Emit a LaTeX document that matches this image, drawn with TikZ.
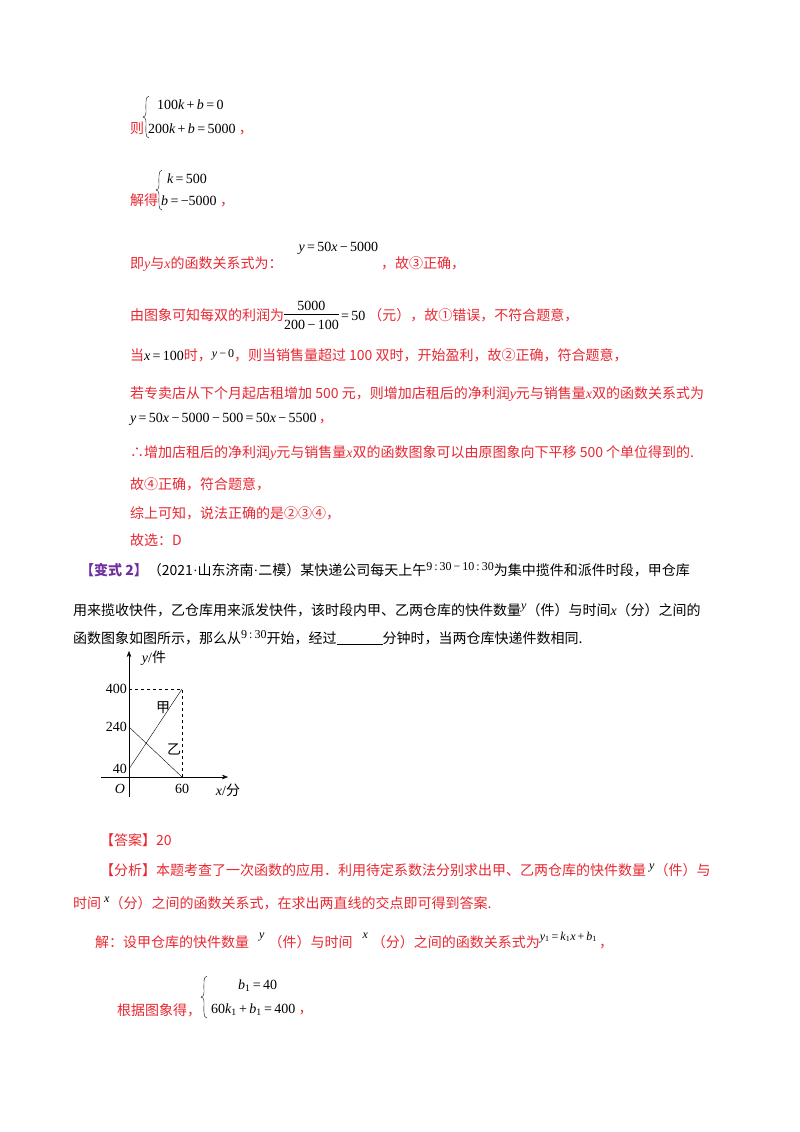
\documentclass[tikz,border=0pt]{standalone}
\usetikzlibrary{arrows.meta}
\usepackage{fontspec}
\setmainfont{Liberation Serif}
\newfontfamily\cjk{Noto Sans CJK SC}
\definecolor{rd}{RGB}{232,40,50}
\definecolor{pu}{RGB}{112,48,160}
\newcommand{\m}[1]{{\rmfamily\itshape #1}}
\newcommand{\bk}[1]{{\color{black}\rmfamily #1}}
\newcommand{\up}[2]{\raisebox{#1}{\color{black}\rmfamily\fontsize{12}{13}\selectfont #2}}
\begin{document}
\begin{tikzpicture}[x=1pt,y=-1pt,
 t/.style={anchor=base west,inner sep=0pt,font=\fontsize{14}{16}\selectfont\cjk,text=rd},
 k/.style={anchor=base west,inner sep=0pt,font=\fontsize{14}{16}\selectfont\rmfamily,text=black},
 g/.style={inner sep=0pt,font=\fontsize{14}{16}\selectfont\rmfamily}]
\fill[white] (0,0) rectangle (800,1132);
% system 1
\node[t] (a1) at (130,133) {则};
\node[k] (a2) at (157,109) {100\m{k}\,+\,\m{b}\,=\,0};
\node[k] (a3) at (148,133) {200\m{k}\,+\,\m{b}\,=\,5000};
\node[t] (a4) at ([xshift=3pt]a3.base east) {，};
\draw (149,96) .. controls (145,96) and (146,106) .. (146,112) .. controls (146,116) and (144,117) .. (143,117) .. controls (144,117) and (146,118) .. (146,122) .. controls (146,130) and (145,138) .. (149,138);
% system 2
\node[t] (b1) at (130,205) {解得};
\node[k] (b2) at (167,183) {\m{k}\,=\,500};
\node[k] (b3) at (161,205) {\m{b}\,=\,−5000};
\node[t] (b4) at ([xshift=3pt]b3.base east) {，};
\draw (162,170) .. controls (158,170) and (159,180) .. (159,185) .. controls (159,189) and (157,190) .. (156,190) .. controls (157,190) and (159,191) .. (159,195) .. controls (159,202) and (158,210) .. (162,210);
% lines
\node[t] (c1) at (130,268) {即\m{y}与\m{x}的函数关系式为：\hspace{16pt}\raisebox{17pt}{\bk{\m{y}\,=\,50\m{x}\,−\,5000}}\hspace{3pt}，故③正确，};
\node[t] (d1) at (130,320) {由图象可知每双的利润为\bk{\begin{tabular}{@{}c@{}}5000\\[-1pt]\hline\rule{0pt}{15pt}200\,−\,100\end{tabular}\,=\,50}\hspace{3pt}（元），故①错误，不符合题意，};
\node[t] (e1) at (130,360) {当\bk{\m{x}\,=\,100}时，\up{3pt}{\m{y}\,−\,0}，则当销售量超过 100 双时，开始盈利，故②正确，符合题意，};
\node[t] (f1) at (130,398) {若专卖店从下个月起店租增加 500 元，则增加店租后的净利润\m{y}元与销售量\m{x}双的函数关系式为};
\node[t] (f2) at (130,422) {\bk{\m{y}\,=\,50\m{x}\,−\,5000\,−\,500\,=\,50\m{x}\,−\,5500}\,，};
\node[t] (f4) at (130,457) {∴增加店租后的净利润\m{y}元与销售量\m{x}双的函数图象可以由原图象向下平移 500 个单位得到的.};
\node[t] (f5) at (130,489) {故④正确，符合题意，};
\node[t] (f6) at (130,518) {综上可知，说法正确的是②③④，};
\node[t] (f7) at (130,545) {故选：D};
% problem
\node[t,text=black] (p1) at (80,575) {\textcolor{pu}{\bfseries【变式 2】}（2021{\rmfamily·}山东济南{\rmfamily·}二模）某快递公司每天上午\up{5pt}{9\,:\,30\,−\,10\,:\,30}为集中揽件和派件时段，甲仓库};
\node[t,text=black] (p5) at (73,615) {用来揽收快件，乙仓库用来派发快件，该时段内甲、乙两仓库的快件数量\up{6pt}{\m{y}}（件）与时间\m{x}（分）之间的};
\node[t,text=black] (p8) at (73,643) {函数图象如图所示，那么从\up{5pt}{9\,:\,30}开始，经过\rule[-2pt]{46pt}{1.2pt}分钟时，当两仓库快递件数相同.};
% graph
\coordinate (O) at (129,777);
\coordinate (Xe) at (228,777);
\coordinate (Ye) at (129,651);
\coordinate (A) at (129,769);
\coordinate (B) at (182,689);
\coordinate (C) at (129,727);
\coordinate (D) at (182,777);
\coordinate (E) at (129,689);
\draw[-{Stealth[length=6pt]}] (101,777) -- (Xe);
\draw[-{Stealth[length=6pt]}] (129,797) -- (Ye);
\draw (A) -- (B);
\draw (C) -- (D);
\draw[dashed] (E) -- (B) -- (D);
\node[g,anchor=east] (l400) at (127,689) {400};
\node[g,anchor=east] (l240) at (127,727) {240};
\node[g,anchor=east] (l40) at (127,769) {40};
\node[g] (lO) at (120,789) {\itshape O};
\node[g] (l60) at (182,789) {60};
\node[g] (lx) at (228,790) {\m{x}/\cjk 分};
\node[g] (ly) at (154,658) {\m{y}/\cjk 件};
\node[g] (jia) at (163,708) {\cjk 甲};
\node[g] (yi) at (174,749) {\cjk 乙};
% answer
\node[t] (q1) at (100,845) {【答案】20};
\node[t] (q2) at (100,875) {【分析】本题考查了一次函数的应用．利用待定系数法分别求出甲、乙两仓库的快件数量\hspace{3pt}\up{6pt}{\m{y}}（件）与};
\node[t] (q5) at (73,908) {时间\hspace{3pt}\up{6pt}{\m{x}}（分）之间的函数关系式，在求出两直线的交点即可得到答案.};
\node[t] (r1) at (95,947) {解：设甲仓库的快件数量\hspace{10pt}\up{9pt}{\m{y}}\hspace{4pt}（件）与时间\hspace{10pt}\up{9pt}{\m{x}}\hspace{4pt}（分）之间的函数关系式为\up{7pt}{\m{y}\textsubscript{1}\,=\,\m{k}\textsubscript{1}\m{x}\,+\,\m{b}\textsubscript{1}}\,，};
\node[t] (r8) at (117,1015) {根据图象得，};
\node[k] (r9) at (238,989) {\m{b}\textsubscript{1}\,=\,40};
\node[k] (r10) at (211,1013) {60\m{k}\textsubscript{1}\,+\,\m{b}\textsubscript{1}\,=\,400};
\node[t] (r11) at ([xshift=3pt]r10.base east) {，};
\draw (207,976) .. controls (203,976) and (204,986) .. (204,992) .. controls (204,996) and (202,997) .. (201,997) .. controls (202,997) and (204,998) .. (204,1002) .. controls (204,1010) and (203,1018) .. (207,1018);
\end{tikzpicture}
\end{document}
